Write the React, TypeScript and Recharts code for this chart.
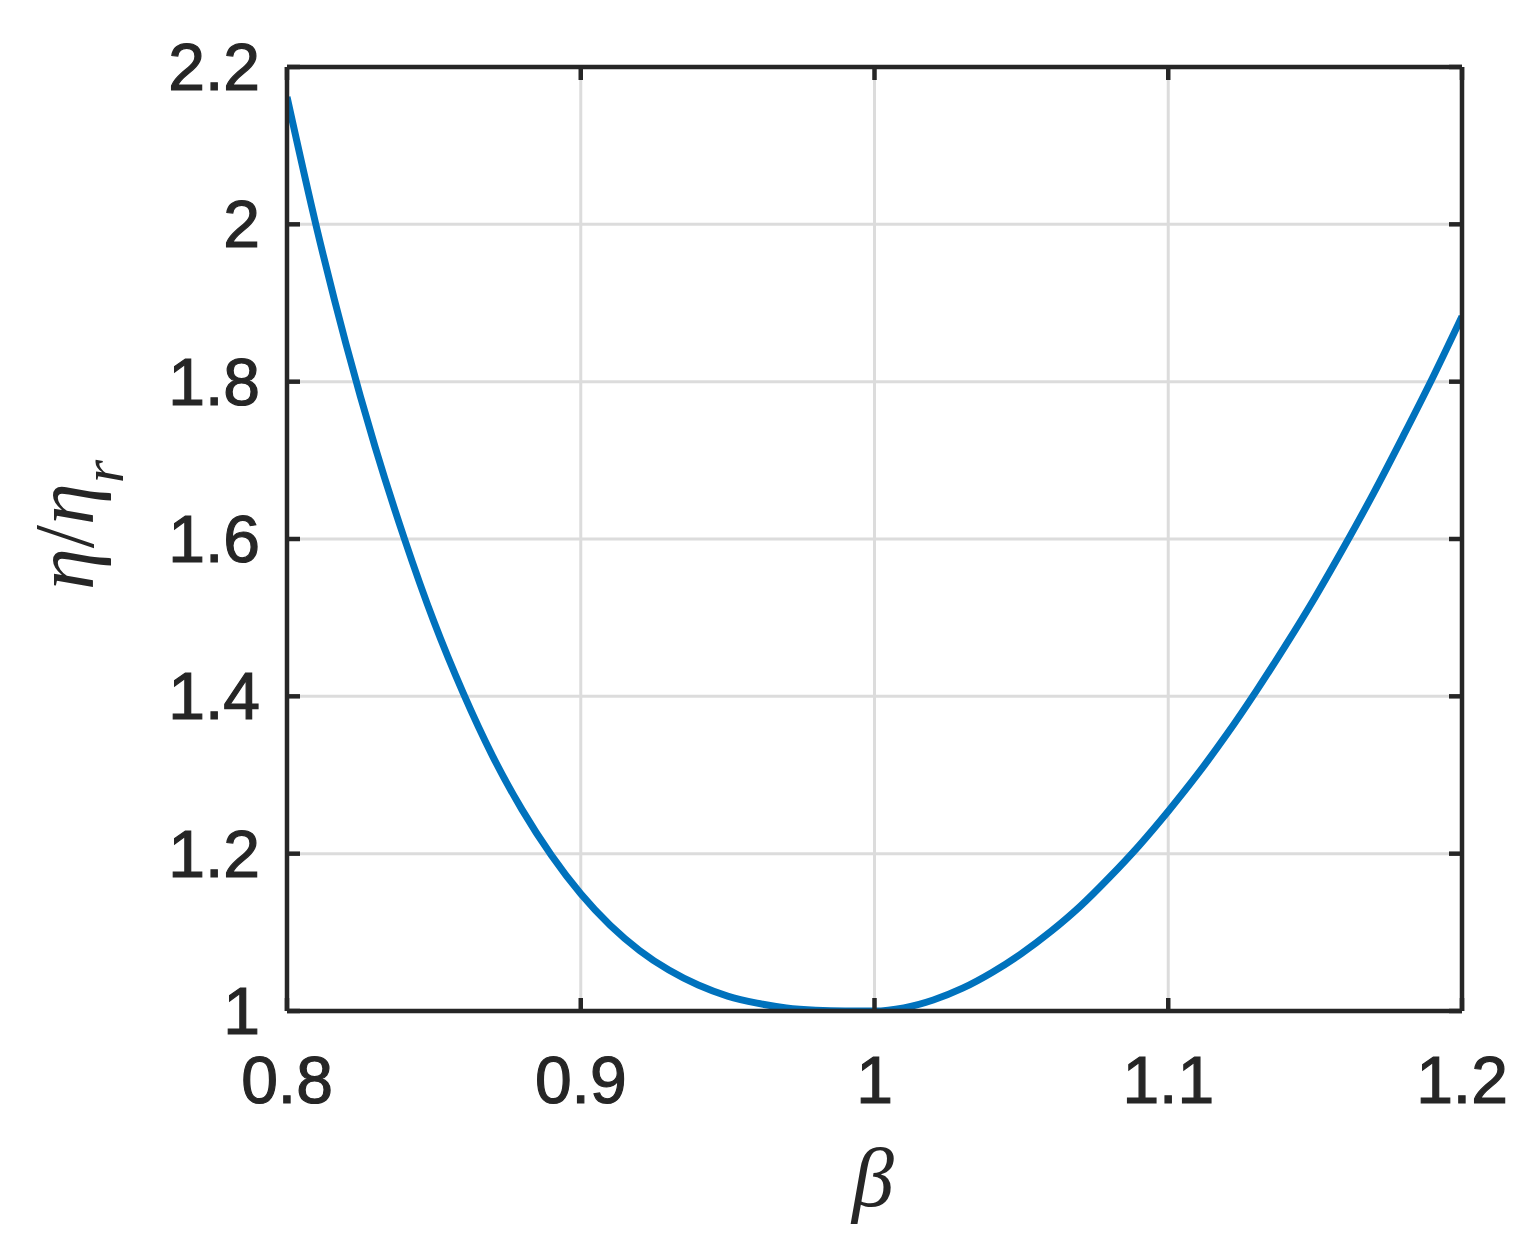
import React from "react";
import { LineChart, Line, XAxis, YAxis, CartesianGrid, Label } from "recharts";

const betaValues = [
  0.8, 0.81, 0.82, 0.83, 0.84, 0.85, 0.86, 0.87, 0.88, 0.89, 0.9,
  0.91, 0.92, 0.93, 0.94, 0.95, 0.96, 0.97, 0.98, 0.99, 1.0,
  1.01, 1.02, 1.03, 1.04, 1.05, 1.06, 1.07, 1.08, 1.09, 1.1,
  1.11, 1.12, 1.13, 1.14, 1.15, 1.16, 1.17, 1.18, 1.19, 1.2,
];
const etaRatio = [
  2.162, 1.997, 1.849, 1.717, 1.6, 1.495, 1.404, 1.324, 1.256, 1.198, 1.149,
  1.109, 1.077, 1.052, 1.033, 1.019, 1.01, 1.004, 1.001, 1.0, 1.0,
  1.004, 1.014, 1.029, 1.049, 1.073, 1.101, 1.133, 1.17, 1.21, 1.254,
  1.301, 1.352, 1.407, 1.465, 1.526, 1.591, 1.659, 1.731, 1.805, 1.883,
];
const xTicks = [0.8, 0.9, 1, 1.1, 1.2];
const yTicks = [1, 1.2, 1.4, 1.6, 1.8, 2, 2.2];

const data = betaValues.map((b, i) => ({ beta: b, eta: etaRatio[i] }));

const AXIS = "#262626";
const FONT = "'Liberation Sans', Arial, Helvetica, sans-serif";
const SERIF = "'Liberation Serif', 'Times New Roman', serif";
const TICK_LEN = 13;
const AXIS_W = 4.5;
const TICK_FONT = 66;

const labelText = {
  fill: AXIS,
  fontSize: TICK_FONT,
  fontFamily: FONT,
  stroke: AXIS,
  strokeWidth: 1.2,
};

const LeftTick = (props: any) => {
  const { x, y, payload } = props;
  return (
    <g>
      <line x1={x} y1={y} x2={x + TICK_LEN} y2={y} stroke={AXIS} strokeWidth={AXIS_W} />
      <text x={x - 27} y={y} textAnchor="end" dominantBaseline="central" {...labelText}>
        {String(payload.value)}
      </text>
    </g>
  );
};

const BottomTick = (props: any) => {
  const { x, y, payload } = props;
  return (
    <g>
      <line x1={x} y1={y} x2={x} y2={y - TICK_LEN} stroke={AXIS} strokeWidth={AXIS_W} />
      <text x={x} y={y + 92} textAnchor="middle" {...labelText}>
        {String(payload.value)}
      </text>
    </g>
  );
};

const TopTick = (props: any) => {
  const { x, y } = props;
  return <line x1={x} y1={y} x2={x} y2={y + TICK_LEN} stroke={AXIS} strokeWidth={AXIS_W} />;
};

const RightTick = (props: any) => {
  const { x, y } = props;
  return <line x1={x} y1={y} x2={x - TICK_LEN} y2={y} stroke={AXIS} strokeWidth={AXIS_W} />;
};

const YLabel = (props: any) => {
  const cx = 93;
  const cy = 525;
  return (
    <text
      x={cx}
      y={cy}
      transform={`rotate(-90 ${cx} ${cy})`}
      textAnchor="middle"
      fill={AXIS}
      fontFamily={SERIF}
      fontSize={84}
    >
      <tspan fontStyle="italic">η</tspan>
      <tspan>/</tspan>
      <tspan fontStyle="italic">η</tspan>
      <tspan fontStyle="italic" fontSize={60} dy={30}>r</tspan>
    </text>
  );
};

const XLabel = (props: any) => (
  <text
    x={873}
    y={1206}
    textAnchor="middle"
    fill={AXIS}
    fontFamily={SERIF}
    fontStyle="italic"
    fontSize={84}
  >
    β
  </text>
);

const axisLine = { stroke: AXIS, strokeWidth: AXIS_W };

export default function App() {
  return (
    <div style={{ position: "absolute", left: 0, top: 0, background: "#fff" }}>
      <LineChart
        width={1535}
        height={1249}
        data={data}
        margin={{ top: 66, right: 72, left: 0, bottom: 0 }}
      >
        <CartesianGrid stroke="#dcdcdc" strokeWidth={3} xAxisId="bottom" yAxisId="left" />
        <XAxis
          xAxisId="bottom"
          dataKey="beta"
          type="number"
          domain={[0.8, 1.2]}
          ticks={xTicks}
          allowDataOverflow
          orientation="bottom"
          height={238}
          axisLine={axisLine}
          tickLine={false}
          tickSize={0}
          tickMargin={0}
          tick={<BottomTick />}
          interval={0}
        >
          <Label content={<XLabel />} />
        </XAxis>
        <XAxis
          xAxisId="top"
          dataKey="beta"
          type="number"
          domain={[0.8, 1.2]}
          ticks={xTicks}
          allowDataOverflow
          orientation="top"
          height={1}
          axisLine={axisLine}
          tickLine={false}
          tickSize={0}
          tickMargin={0}
          tick={<TopTick />}
          interval={0}
        />
        <YAxis
          yAxisId="left"
          type="number"
          domain={[1, 2.2]}
          ticks={yTicks}
          allowDataOverflow
          orientation="left"
          width={287}
          axisLine={axisLine}
          tickLine={false}
          tickSize={0}
          tickMargin={0}
          tick={<LeftTick />}
          interval={0}
        >
          <Label content={<YLabel />} />
        </YAxis>
        <YAxis
          yAxisId="right"
          type="number"
          domain={[1, 2.2]}
          ticks={yTicks}
          allowDataOverflow
          orientation="right"
          width={1}
          axisLine={axisLine}
          tickLine={false}
          tickSize={0}
          tickMargin={0}
          tick={<RightTick />}
          interval={0}
        />
        <Line
          xAxisId="bottom"
          yAxisId="left"
          type="monotone"
          dataKey="eta"
          stroke="#0072BD"
          strokeWidth={7}
          dot={false}
          isAnimationActive={false}
        />
      </LineChart>
    </div>
  );
}
